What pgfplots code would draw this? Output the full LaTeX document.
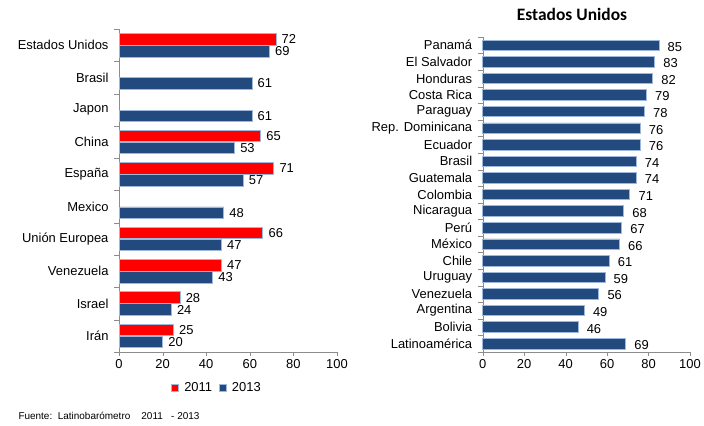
\documentclass[border=0pt]{standalone}
\usepackage{fontspec}
\setmainfont{Liberation Sans}
\newfontfamily\titlefont{Carlito}
\usepackage{pgfplots}
\pgfplotsset{compat=1.18}
\definecolor{barred}{HTML}{FF0000}
\definecolor{barblue}{HTML}{234A7E}
\definecolor{edge}{HTML}{9CB8DC}
\definecolor{axisgray}{HTML}{8C8C8C}
\begin{document}
\begin{tikzpicture}
\path[use as bounding box] (0bp,0bp) rectangle (704bp,426bp);
\pgfplotsset{common/.style={
  scale only axis, xmin=0, xmax=100, xtick={0,20,...,100},
  axis x line*=bottom, axis y line*=left,
  axis line style={axisgray,-},
  tick style={axisgray},
  xtick align=outside, ytick align=outside,
  major tick length=4bp, minor tick length=5bp,
  major y tick style={draw=none},
  minor y tick style={axisgray},
  tick label style={font=\fontsize{13}{15}\selectfont, text=black},
  yticklabel style={xshift=-3bp},
  /pgf/number format/assume math mode=true,
  xbar, enlarge y limits=false,
  nodes near coords,
  nodes near coords style={font=\fontsize{13}{15}\selectfont, anchor=west, xshift=2bp},
  clip=false,
}}
% Left chart
\begin{axis}[common,
  at={(119bp,74bp)}, anchor=south west, width=218bp, height=323bp,
  ymin=-0.5, ymax=9.5,
  ytick={0,...,9},
  minor ytick={-0.5,0.5,...,9.5},
  yticklabels={Irán,Israel,Venezuela,Unión Europea,Mexico,España,China,Japon,Brasil,Estados Unidos},
  bar width=11.5bp,
  legend columns=2,
  legend style={at={(0.45,-0.111)}, anchor=center, draw=none, fill=none,
    font=\fontsize{13}{15}\selectfont, column sep=3bp,
    /tikz/every even column/.append style={column sep=5bp}},
  legend image code/.code={\draw[#1] (0bp,-3.5bp) rectangle (7bp,3.5bp);},
]
\addplot[fill=barred, draw=edge, line width=0.8bp, bar shift=6bp] coordinates {
 (72,9) (65,6) (71,5) (66,3) (47,2) (28,1) (25,0)};
\addplot[fill=barblue, draw=edge, line width=0.8bp, bar shift=-6bp] coordinates {
 (69,9) (61,8) (61,7) (53,6) (57,5) (48,4) (47,3) (43,2) (24,1) (20,0)};
\legend{2011,2013}
\end{axis}
% Right chart
\begin{axis}[common,
  at={(482.7bp,74bp)}, anchor=south west, width=207.3bp, height=315bp,
  ymin=-0.5, ymax=18.5,
  ytick={0,...,18},
  minor ytick={-0.5,0.5,...,18.5},
  yticklabels={Latinoamérica,Bolivia,Argentina,Venezuela,Uruguay,Chile,México,Perú,Nicaragua,Colombia,Guatemala,Brasil,Ecuador,Rep. Dominicana,Paraguay,Costa Rica,Honduras,El Salvador,Panamá},
  bar width=10.5bp,
  nodes near coords style={xshift=3bp, yshift=-1.5bp},
]
\addplot[fill=barblue, draw=edge, line width=0.8bp, bar shift=0bp] coordinates {
 (69,0) (46,1) (49,2) (56,3) (59,4) (61,5) (66,6) (67,7) (68,8) (71,9)
 (74,10) (74,11) (76,12) (76,13) (78,14) (79,15) (82,16) (83,17) (85,18)};
\end{axis}
\node[font=\titlefont\bfseries\fontsize{17.5}{20}\selectfont] at (572bp,412bp) {Estados Unidos};
\node[anchor=west, font=\fontsize{10}{12}\selectfont] at (15bp,10bp) {Fuente:\ \ Latinobarómetro\ \ \ \ 2011\ \ \ - 2013};
\end{tikzpicture}
\end{document}
